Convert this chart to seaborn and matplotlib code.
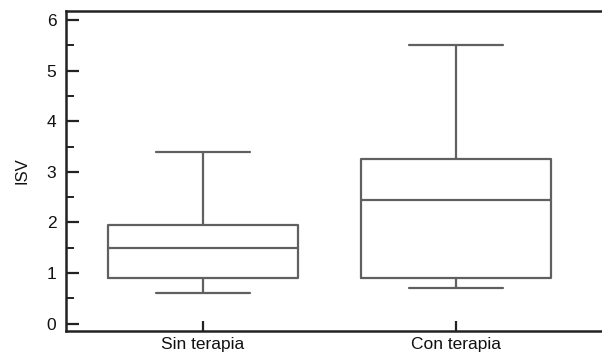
import numpy as np
import pandas as pd
import matplotlib
matplotlib.use("Agg")
import matplotlib.pyplot as plt
import seaborn as sns
from matplotlib.ticker import MultipleLocator

# Data: five-number summaries (min, Q1, median, Q3, max)
categories = ["Sin terapia", "Con terapia"]
sin_terapia = [0.6, 0.9, 1.5, 1.95, 3.4]
con_terapia = [0.7, 0.9, 2.45, 3.25, 5.5]
y_label = "ISV"

df = pd.DataFrame({
    "grupo": [categories[0]] * len(sin_terapia) + [categories[1]] * len(con_terapia),
    "ISV": sin_terapia + con_terapia,
})

sns.set_theme(style="white")
plt.rcParams["font.family"] = ["Liberation Sans", "DejaVu Sans"]

fig = plt.figure(figsize=(6.02, 3.54), dpi=100)
ax = fig.add_axes([66 / 602, 23 / 354, 536 / 602, 320 / 354])

line_col = "#606060"
sns.boxplot(data=df, x="grupo", y="ISV", order=categories, ax=ax,
            whis=(0, 100), width=0.75, fill=False, color=line_col,
            linewidth=1.6, showfliers=False)

ax.set_xlim(-0.5415, 1.577)
ax.set_ylim(-0.145, 6.178)
ax.yaxis.set_major_locator(MultipleLocator(1))
ax.yaxis.set_minor_locator(MultipleLocator(0.5))

for side in ["left", "bottom", "top"]:
    ax.spines[side].set_visible(True)
    ax.spines[side].set_color("#222222")
    ax.spines[side].set_linewidth(1.8)
ax.spines["right"].set_visible(False)

ax.tick_params(axis="y", which="major", direction="in", length=9, width=1.6,
               color="#222222", labelsize=12.5, pad=7, left=True)
ax.tick_params(axis="y", which="minor", direction="in", length=6, width=1.4,
               color="#222222", left=True)
ax.tick_params(axis="x", which="major", direction="in", length=7, width=1.6,
               color="#222222", labelsize=12.5, pad=4, bottom=True)
ax.set_xlabel("")
ax.set_ylabel(y_label, fontsize=12, labelpad=12)
for t in ax.get_xticklabels() + ax.get_yticklabels():
    t.set_color("#111111")
ax.yaxis.label.set_color("#111111")

fig.savefig("out.png", dpi=100)
